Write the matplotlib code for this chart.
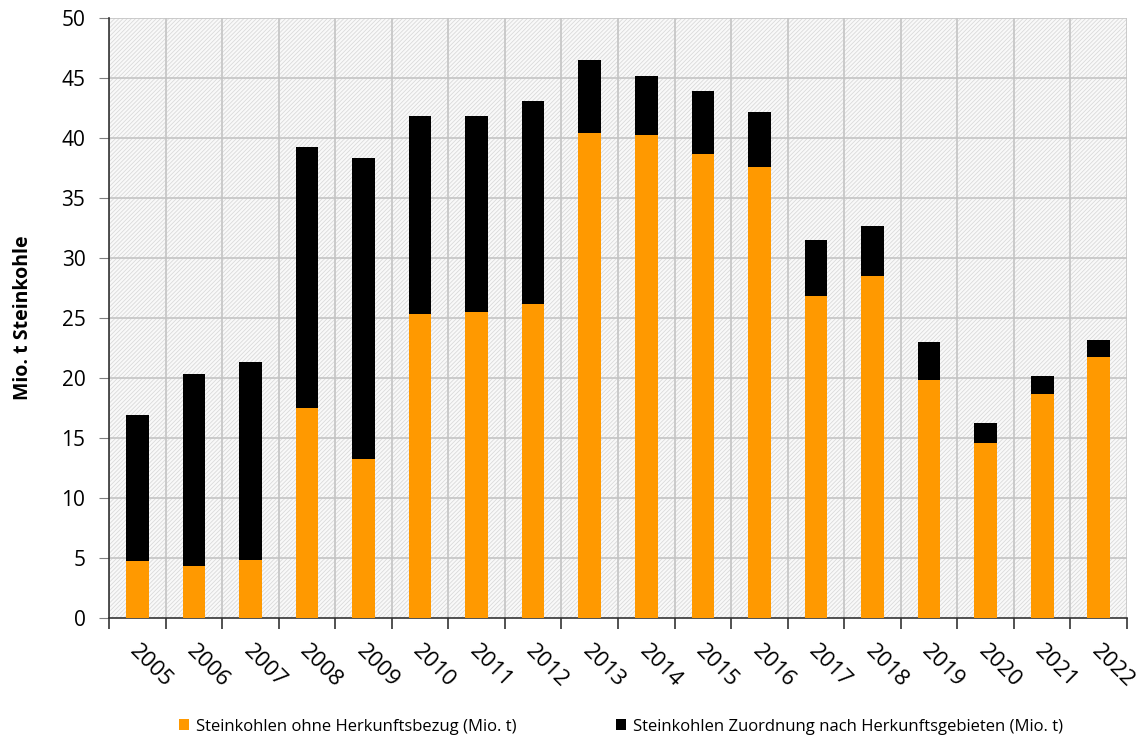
import matplotlib
matplotlib.use("Agg")
from matplotlib import pyplot as plt
from matplotlib.patches import Rectangle

years = [str(y) for y in range(2005, 2023)]
ohne_bezug = [4.74, 4.37, 4.82, 17.52, 13.26, 25.31, 25.5, 26.17, 40.41, 40.24,
              38.65, 37.57, 26.82, 28.51, 19.8, 14.56, 18.69, 21.78]
gesamt = [16.93, 20.33, 21.36, 39.29, 38.37, 41.85, 41.85, 43.08, 46.5, 45.2,
          43.9, 42.19, 31.47, 32.69, 23.0, 16.26, 20.19, 23.14]
zuordnung = [g - o for g, o in zip(gesamt, ohne_bezug)]

label_ohne = "Steinkohlen ohne Herkunftsbezug (Mio. t)"
label_zuordnung = "Steinkohlen Zuordnung nach Herkunftsgebieten (Mio. t)"

plt.rcParams['font.family'] = ['Open Sans', 'DejaVu Sans']
plt.rcParams['hatch.linewidth'] = 0.6

fig = plt.figure(figsize=(11.39, 7.4), dpi=100)
ax = fig.add_axes([0.0957, 0.1649, 0.8938, 0.8108])

x = list(range(len(years)))
ax.set_xlim(-0.5, len(years) - 0.5)
ax.set_ylim(0, 50)

# hatched background
ax.add_patch(Rectangle((0, 0), 1, 1, transform=ax.transAxes, facecolor='#f9f9f9',
                       edgecolor='#dadada', linewidth=0, hatch='////////', zorder=0))

# grid
for yv in range(5, 51, 5):
    ax.axhline(yv, color='#c4c4c4', lw=1.2, zorder=1)
for xv in range(len(years) + 1):
    ax.axvline(xv - 0.5, color='#c4c4c4', lw=1.2, zorder=1)

b1 = ax.bar(x, ohne_bezug, width=0.4, color='#FF9900', zorder=3, label=label_ohne)
b2 = ax.bar(x, zuordnung, bottom=ohne_bezug, width=0.4, color='black', zorder=3,
            label=label_zuordnung)

ax.set_yticks(range(0, 51, 5))
ax.tick_params(axis='y', labelsize=15, length=7, color='#808080', pad=10)
ax.set_xticks([v - 0.5 for v in range(len(years) + 1)])
ax.set_xticklabels([])
ax.tick_params(axis='x', length=8, width=1.2, color='#333333')
for i, yr in enumerate(years):
    ax.text(i + 0.06, -1.9, yr, rotation=-45, ha='left', va='top',
            rotation_mode='anchor', fontsize=16, clip_on=False)

for s in ['top', 'right']:
    ax.spines[s].set_visible(False)
ax.spines['left'].set_color('#333333')
ax.spines['bottom'].set_color('#333333')
ax.spines['left'].set_linewidth(1.2)
ax.spines['bottom'].set_linewidth(1.2)

ax.set_ylabel("Mio. t Steinkohle", fontsize=14, fontweight='bold')
ax.yaxis.set_label_coords(-0.075, 0.5)

fig.legend(handles=[b1, b2], loc='lower center', bbox_to_anchor=(0.545, -0.013),
           ncol=2, frameon=False, fontsize=12, handlelength=0.6, handleheight=0.6,
           handletextpad=0.4, columnspacing=6.0)

fig.savefig("out.png", dpi=100)
